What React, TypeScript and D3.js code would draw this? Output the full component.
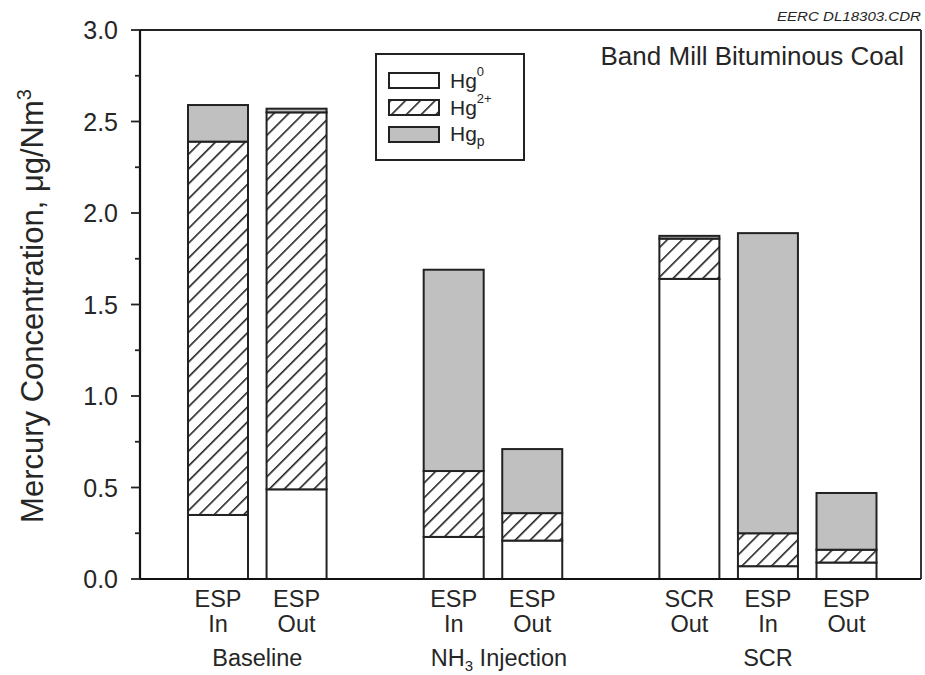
import React from "react";
import * as d3 from "d3";

const barLabels1 = ["ESP", "ESP", "ESP", "ESP", "SCR", "ESP", "ESP"];
const barLabels2 = ["In", "Out", "In", "Out", "Out", "In", "Out"];
const slots = [0, 1, 3, 4, 6, 7, 8];
const hg0 = [0.35, 0.49, 0.23, 0.21, 1.64, 0.07, 0.09];
const hg2 = [2.04, 2.06, 0.36, 0.15, 0.22, 0.18, 0.07];
const hgp = [0.2, 0.02, 1.1, 0.35, 0.015, 1.64, 0.31];
const groups = ["Baseline", "NH3 Injection", "SCR"];
const groupSlots = [0.5, 3.5, 7];
const yTicks = [0, 0.5, 1.0, 1.5, 2.0, 2.5, 3.0];

const W = 925, H = 675;
const left = 140, right = 921, top = 30, bottom = 579;
const FONT = "Liberation Sans, Arial, Helvetica, sans-serif";
const INK = "#262626";

export default function App() {
  const y = d3.scaleLinear().domain([0, 3]).range([bottom, top]);
  const x = d3.scaleLinear().domain([0, 8]).range([218, 846.5]);
  const bw = 60;
  const minor = d3.range(0, 3.01, 0.25);
  const series = [
    { vals: hg0, fill: "#ffffff" },
    { vals: hg2, fill: "url(#hatch)" },
    { vals: hgp, fill: "#c0c0c0" },
  ];
  const stroke = "#222";
  return (
    <svg width={W} height={H} style={{ position: "absolute", left: 0, top: 0, background: "#fff" }} fontFamily={FONT}>
      <defs>
        <pattern id="hatch" patternUnits="userSpaceOnUse" width={10.5} height={10.5} patternTransform="rotate(45)">
          <rect width={10.5} height={10.5} fill="#fff" />
          <line x1={0} y1={0} x2={0} y2={10.5} stroke="#222" strokeWidth={3.2} />
        </pattern>
      </defs>
      <rect width={W} height={H} fill="#fff" />
      {/* bars */}
      {slots.map((s, i) => {
        let acc = 0;
        return (
          <g key={i}>
            {series.map((se, k) => {
              const v = se.vals[i];
              const y0 = y(acc), y1 = y(acc + v);
              acc += v;
              return (
                <rect key={k} x={x(s) - bw / 2} y={y1} width={bw} height={y0 - y1} fill={se.fill} stroke={stroke} strokeWidth={2} />
              );
            })}
          </g>
        );
      })}
      {/* frame */}
      <line x1={left} y1={top} x2={right} y2={top} stroke="#222" strokeWidth={1.8} />
      <line x1={right} y1={top} x2={right} y2={bottom} stroke="#222" strokeWidth={1.8} />
      <line x1={left} y1={bottom} x2={right} y2={bottom} stroke="#111" strokeWidth={2.2} />
      <line x1={left} y1={top} x2={left} y2={bottom} stroke="#111" strokeWidth={2.2} />
      {minor.map((t, i) => (
        <line key={i} x1={left} x2={left - (i % 2 === 0 ? 9 : 5)} y1={y(t)} y2={y(t)} stroke="#222" strokeWidth={1.8} />
      ))}
      {yTicks.map((t, i) => (
        <text key={i} x={118} y={y(t)} dy="0.36em" textAnchor="end" fontSize={25} fill={INK}>
          {t.toFixed(1)}
        </text>
      ))}
      <text transform={`translate(43,306) rotate(-90)`} textAnchor="middle" fontSize={31} fill={INK}>
        Mercury Concentration, μg/Nm<tspan dy={-12} fontSize={20}>3</tspan>
      </text>
      {/* x labels */}
      {slots.map((s, i) => (
        <g key={i}>
          <text x={x(s)} y={607} textAnchor="middle" fontSize={23.5} fill={INK}>{barLabels1[i]}</text>
          <text x={x(s)} y={632} textAnchor="middle" fontSize={23.5} fill={INK}>{barLabels2[i]}</text>
        </g>
      ))}
      {groups.map((g, i) => (
        <text key={i} x={x(groupSlots[i]) + (i === 1 ? 6 : 0)} y={666} textAnchor="middle" fontSize={23.5} fill={INK}>
          {g === "NH3 Injection" ? (
            <>NH<tspan dy={5} fontSize={15}>3</tspan><tspan dy={-5}> Injection</tspan></>
          ) : g}
        </text>
      ))}
      <text x={904} y={65} textAnchor="end" fontSize={26} fill={INK}>Band Mill Bituminous Coal</text>
      <text x={921} y={21} textAnchor="end" fontSize={13} fontStyle="italic" fill={INK} textLength={144} lengthAdjust="spacingAndGlyphs">EERC DL18303.CDR</text>
      {/* legend */}
      <rect x={376} y={54} width={148} height={106} fill="#fff" stroke="#222" strokeWidth={2} />
      {[
        { fill: "#ffffff", main: "Hg", sup: "0", sub: "" },
        { fill: "url(#hatch)", main: "Hg", sup: "2+", sub: "" },
        { fill: "#c0c0c0", main: "Hg", sup: "", sub: "p" },
      ].map((l, i) => (
        <g key={i}>
          <rect x={389} y={73 + i * 27} width={50} height={15} fill={l.fill} stroke="#222" strokeWidth={2} />
          <text x={450} y={88 + i * 26.5} fontSize={21} fill={INK}>
            {l.main}
            {l.sup && <tspan dy={-12} fontSize={13}>{l.sup}</tspan>}
            {l.sub && <tspan dy={5} fontSize={14}>{l.sub}</tspan>}
          </text>
        </g>
      ))}
    </svg>
  );
}
